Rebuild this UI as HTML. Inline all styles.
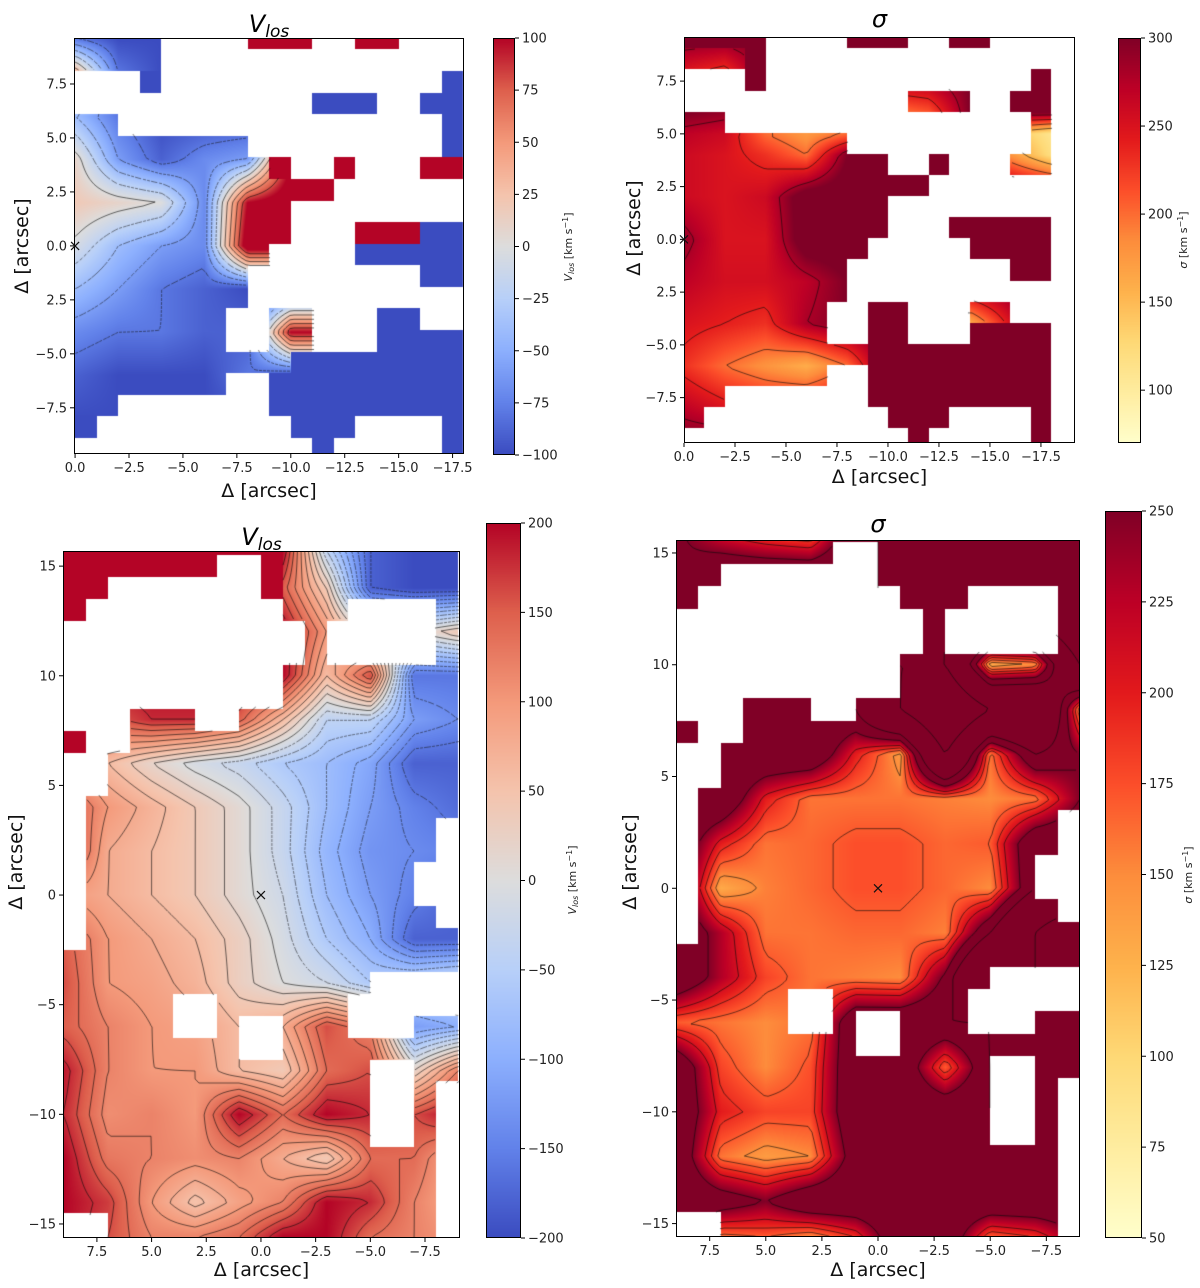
<!DOCTYPE html>
<html><head><meta charset="utf-8">
<style>
html,body{margin:0;padding:0;background:#fff;}
#root{position:relative;width:1200px;height:1288px;overflow:hidden;background:#fff;font-family:"DejaVu Sans","Liberation Sans",sans-serif;}
canvas{position:absolute;}
svg{position:absolute;left:0;top:0;}
</style></head>
<body>
<div id="root">
<svg id="ov" width="1200" height="1288"></svg>
</div>
<script>
// ---------- DATA ----------
const p1Mask = [
"ffff....rrr..rr...",
"ffff..............",
"...b.............b",
"...........bbb..bb",
"ff...............b",
"ffffffff.........b",
"fffffffffr..r...rr",
"ffffffffffrr......",
"ffffffffff........",
"ffffffffff...rrrbb",
"fffffffff....bbbbb",
"ffffffff........bb",
"ffffffff..........",
"fffffff..ff...bb..",
"fffffff..ff...bbbb",
"ffffffffffbbbbbbbb",
"fffffff..bbbbbbbbb",
"ff.......bbbbbbbbb",
"b.........bbb....b",
"...........b.....b"];
const p1GridX = [0,-2,-4,-6,-8,-10];
const p1GridY = [9.6,8,6,4,2,0,-2,-4,-6,-8];
const p1Values = [
[-80,-100,-100,-100,-100,-100],
[40,-80,-100,-100,-100,-100],
[-40,-80,-100,-100,-100,-100],
[10,-60,-90,-70,-60,100],
[20,10,0,-70,100,120],
[-5,-40,-60,-70,120,120],
[-40,-60,-80,-90,-100,-100],
[-70,-80,-80,-90,-90,100],
[-90,-100,-100,-100,-80,-100],
[-100,-100,-100,-100,-100,-100]];

const p2Mask = [
"dddd....ddd..dd....",
"fffd...............",
"...d.............d.",
"...........fff..dd.",
"ff...............f.",
"ffffffff.........f.",
"ffffffffdd..d...ff.",
"ffffffffdddd.......",
"fffffffddd.........",
"fffffffddd...ddddd.",
"ffffffffd.....dddd.",
"ffffffff........dd.",
"ffffffff...........",
"fffffff..dd...ff...",
"fffffff..dd...dddd.",
"fffffffffddddddddd.",
"fffffff..ddddddddd.",
"ff.......ddddddddd.",
"f.........ddd....d.",
"...........d.....d."];
const p2GridX = [0,-2,-4,-6,-8,-10,-12,-14,-16,-18];
const p2GridY = [9.6,8,6,5,4,2,0,-2,-4,-6,-8,-9.5];
const p2Values = [
[300,300,300,300,300,300,300,300,300,300],
[250,230,300,300,300,300,300,300,300,300],
[300,290,300,300,300,190,210,300,300,300],
[270,260,200,175,200,300,300,300,150,110],
[260,250,230,200,300,300,300,300,180,120],
[260,250,260,320,320,300,300,300,300,300],
[290,250,250,320,320,300,300,300,300,300],
[270,255,255,270,300,300,300,300,300,300],
[250,240,230,280,300,300,300,160,250,300],
[230,200,180,160,200,300,300,300,300,300],
[270,250,240,250,260,300,300,300,300,300],
[300,300,300,300,300,300,300,300,300,300]];

const bMask = [
"rrrrrrrrrrffffffff",
"rrrrrrr..rffffffff",
"rr.......rffffffff",
"r.........fff....f",
"...........f.....f",
"...........f.....f",
"..........ffffffff",
"..........ffffffff",
"...fff..ffffffffff",
"r..fffffffffffffff",
"..ffffffffffffffff",
"..ffffffffffffffff",
".fffffffffffffffff",
".ffffffffffffffff.",
".ffffffffffffffff.",
".fffffffffffffff..",
".fffffffffffffff..",
".ffffffffffffffff.",
".fffffffffffffffff",
"ffffffffffffffffff",
"ffffffffffffff....",
"fffff..ffffff.....",
"fffff..f..fff...ff",
"ffffffff..ffffffff",
"ffffffffffffff..ff",
"ffffffffffffff..f.",
"ffffffffffffff..f.",
"ffffffffffffff..f.",
"fffffffffffffffff.",
"fffffffffffffffff.",
"fffffffffffffffff.",
"..fffffffffffffff.",
"..fffffffffffffff."];
const bGridX = [9,7,5,3,1,-1,-3,-5,-7,-9];
const bGridY = [15.7,14,12,10,8,6,4,2,0,-2,-4,-6,-8,-10,-12,-14,-15.6];
const p3Values = [
[200,200,200,200,200,200,-40,-180,-200,-200],
[200,200,200,200,200,150,40,-180,-200,-200],
[200,200,200,200,200,200,100,0,0,40],
[200,200,200,200,200,200,60,160,-160,-160],
[150,150,180,180,150,60,-40,-40,-120,-140],
[100,60,20,-10,-30,-60,-80,-110,-180,-180],
[160,100,70,40,10,-30,-80,-120,-150,-170],
[180,80,60,40,10,-30,-90,-130,-140,-150],
[100,80,60,40,10,-20,-80,-120,-150,-180],
[150,100,80,60,30,-10,-60,-100,-180,-180],
[160,100,90,70,30,0,-20,-60,-40,-20],
[150,120,100,90,60,80,160,120,-120,-100],
[190,120,100,100,60,40,140,160,20,120],
[180,110,120,100,200,140,200,180,160,200],
[200,130,120,110,120,80,40,140,140,80],
[200,170,100,50,90,120,200,180,120,80],
[200,160,120,120,140,200,200,140,120,100]];
const p4Values = [
[260,215,190,175,300,700,500,500,700,700],
[250,300,300,300,300,700,500,500,500,700],
[300,300,300,300,300,700,500,500,500,700],
[300,300,300,300,300,500,500,130,150,500],
[300,300,300,300,300,500,700,500,500,150],
[300,300,300,300,200,140,500,160,300,250],
[300,300,200,160,160,160,155,150,160,250],
[300,200,160,165,175,175,165,170,300,300],
[300,130,155,165,175,175,165,150,300,300],
[300,230,160,160,165,165,155,300,500,700],
[300,230,180,160,155,150,260,500,500,500],
[170,160,150,160,300,300,300,300,500,500],
[300,180,150,175,300,300,170,300,500,300],
[300,200,180,180,300,300,300,300,300,300],
[300,160,140,150,280,300,300,300,300,300],
[300,280,250,300,300,300,300,300,300,300],
[300,160,170,150,190,300,300,170,190,250]];

const p1XTicks = [0,-2.5,-5,-7.5,-10,-12.5,-15,-17.5];
const p1XLabels = ["0.0","−2.5","−5.0","−7.5","−10.0","−12.5","−15.0","−17.5"];
const p1YTicks = [7.5,5,2.5,0,-2.5,-5,-7.5];
const p1YLabels = ["7.5","5.0","2.5","0.0","2.5","−5.0","−7.5"];
const bXTicks = [7.5,5,2.5,0,-2.5,-5,-7.5];
const bXLabels = ["7.5","5.0","2.5","0.0","−2.5","−5.0","−7.5"];
const bYTicks = [15,10,5,0,-5,-10,-15];
const bYLabels = ["15","10","5","0","−5","−10","−15"];
const cb1Ticks = [100,75,50,25,0,-25,-50,-75,-100];
const cb2Ticks = [300,250,200,150,100];
const cb3Ticks = [200,150,100,50,0,-50,-100,-150,-200];
const cb4Ticks = [250,225,200,175,150,125,100,75,50];
const p1Levels = [-100,-80,-60,-40,-20,0,20,40,60,80];
const p2Levels = [160,200,240,280,320];
const p3Levels = [-180,-160,-140,-120,-100,-80,-60,-40,-20,0,20,40,60,80,100,120,140,160,180,200];
const p4Levels = [130,150,170,190,210,250,300,500,700];

// ---------- COLORMAPS ----------
const coolwarm=[[59,76,192],[98,130,234],[141,176,254],[184,208,249],[221,221,221],[245,196,173],[244,154,123],[222,96,77],[180,4,38]];
const ylorrd=[[255,255,204],[255,237,160],[254,217,118],[254,178,76],[253,141,60],[252,78,42],[227,26,28],[189,0,38],[128,0,38]];
function cmap(stops,t){t=Math.max(0,Math.min(1,t));const n=stops.length-1;const f=t*n;const i=Math.min(n-1,Math.floor(f));const u=f-i;const a=stops[i],b=stops[i+1];return [a[0]+(b[0]-a[0])*u,a[1]+(b[1]-a[1])*u,a[2]+(b[2]-a[2])*u];}

function seg(arr,v){
  if(v>=arr[0]) return [0,0];
  const n=arr.length-1;
  if(v<=arr[n]) return [n-1,1];
  for(let i=0;i<n;i++){ if(v<=arr[i]&&v>=arr[i+1]){return [i,(arr[i]-v)/(arr[i]-arr[i+1])];}}
  return [n-1,1];
}
function field(gx,gy,vals,x,y){
  const [i,u]=seg(gx,x);const [j,w]=seg(gy,y);
  const a=vals[j][i],b=vals[j][i+1],c=vals[j+1][i],d=vals[j+1][i+1];
  return (a*(1-u)+b*u)*(1-w)+(c*(1-u)+d*u)*w;
}

const svgNS="http://www.w3.org/2000/svg";
const ov=document.getElementById('ov');
const root=document.getElementById('root');
function el(tag,attrs,parent){const e=document.createElementNS(svgNS,tag);for(const k in attrs)e.setAttribute(k,attrs[k]);(parent||ov).appendChild(e);return e;}

function drawPanel(cfg){
  const [L,T,R,B]=cfg.frame;const W=R-L,H=B-T;
  const cv=document.createElement('canvas');
  cv.width=W;cv.height=H;cv.style.left=L+'px';cv.style.top=T+'px';
  
  
  root.insertBefore(cv,ov);
  const ctx=cv.getContext('2d');
  const img=ctx.createImageData(W,H);
  const sx=px=>cfg.xr[0]+(px)/W*(cfg.xr[1]-cfg.xr[0]);
  const sy=py=>cfg.yr[0]+(py)/H*(cfg.yr[1]-cfg.yr[0]);
  const cellAt=(x,y)=>{let c=Math.floor(cfg.mx0-x);let r=Math.floor(cfg.my0-y);
    if(r<0||r>=cfg.mask.length) return '.';const row=cfg.mask[r];c=Math.max(0,c);if(c>=row.length) return '.';return row[c];};
  for(let py=0;py<H;py++){const y=sy(py+0.5);for(let px=0;px<W;px++){const x=sx(px+0.5);
    const ch=cellAt(x,y);let col;
    if(ch==='.') col=[255,255,255];
    else if(ch==='b') col=cmap(cfg.cm,0);
    else if((ch==='r'&&!cfg.rField)||ch==='d') col=cmap(cfg.cm,1);
    else {const v=field(cfg.gx,cfg.gy,cfg.vals,x,y);col=cmap(cfg.cm,(v-cfg.vmin)/(cfg.vmax-cfg.vmin));}
    const k=(py*W+px)*4;img.data[k]=col[0];img.data[k+1]=col[1];img.data[k+2]=col[2];img.data[k+3]=255;}}
  ctx.putImageData(img,0,0);
  const st=4;const nx=Math.ceil(W/st)+1,ny=Math.ceil(H/st)+1;
  const F=[];for(let j=0;j<ny;j++){F.push([]);for(let i=0;i<nx;i++){F[j].push(field(cfg.gx,cfg.gy,cfg.vals,sx(i*st),sy(j*st)));}}
  ctx.lineWidth=0.75;
  cfg.levels.forEach(lv=>{
    ctx.strokeStyle=(cfg.dashNeg&&lv<0)?'rgba(20,20,20,0.7)':'rgba(10,10,10,0.8)';
    ctx.setLineDash((cfg.dashNeg&&lv<0)?[3,2]:[]);
    ctx.beginPath();
    for(let j=0;j<ny-1;j++)for(let i=0;i<nx-1;i++){
      const cx=i*st+st/2,cy=j*st+st/2;const ch=cellAt(sx(cx),sy(cy));
      if(ch!=='f'&&!(ch==='r'&&cfg.rField)) continue;
      const a=F[j][i],b=F[j][i+1],c=F[j+1][i+1],d=F[j+1][i];
      const pts=[];
      const ed=(v1,v2,x1,y1,x2,y2)=>{if((v1-lv)*(v2-lv)<0){const t=(lv-v1)/(v2-v1);pts.push([x1+(x2-x1)*t,y1+(y2-y1)*t]);}};
      const X=i*st,Y=j*st;
      ed(a,b,X,Y,X+st,Y);ed(b,c,X+st,Y,X+st,Y+st);ed(c,d,X+st,Y+st,X,Y+st);ed(d,a,X,Y+st,X,Y);
      if(pts.length>=2){ctx.moveTo(pts[0][0],pts[0][1]);ctx.lineTo(pts[1][0],pts[1][1]);}
      if(pts.length===4){ctx.moveTo(pts[2][0],pts[2][1]);ctx.lineTo(pts[3][0],pts[3][1]);}
    }
    ctx.stroke();
  });
  ctx.setLineDash([]);
  const fr=el('rect',{x:L+0.5,y:T+0.5,width:W-1,height:H-1,fill:'none',stroke:'#000','stroke-width':1});
  
  
  const X=v=>L+(v-cfg.xr[0])/(cfg.xr[1]-cfg.xr[0])*W;
  const Y=v=>T+(v-cfg.yr[0])/(cfg.yr[1]-cfg.yr[0])*H;
  cfg.xt.forEach((v,i)=>{const x=X(v);
    el('line',{x1:x,y1:B,x2:x,y2:B+4,stroke:'#000','stroke-width':1});
    const t=el('text',{x:x,y:B+18,'font-size':13,'text-anchor':'middle',fill:'#222'});t.textContent=cfg.xl[i];
    
    });
  cfg.yt.forEach((v,i)=>{const y=Y(v);
    el('line',{x1:L-4,y1:y,x2:L,y2:y,stroke:'#000','stroke-width':1});
    const t=el('text',{x:L-7,y:y+4.5,'font-size':13,'text-anchor':'end',fill:'#222'});t.textContent=cfg.yl[i];
    
    });
  const c0x=X(0),c0y=Y(0);
  const cr=el('path',{d:`M${c0x-4},${c0y-4}L${c0x+4},${c0y+4}M${c0x-4},${c0y+4}L${c0x+4},${c0y-4}`,stroke:'#111','stroke-width':1.2});
  
  
  const xl=el('text',{x:(L+R)/2,y:cfg.xlabY,'font-size':19,'text-anchor':'middle',fill:'#111'});xl.textContent='Δ [arcsec]';
  
  
  const yl=el('text',{x:0,y:0,'font-size':19,'text-anchor':'middle',fill:'#111',transform:`translate(${cfg.ylabX},${cfg.ylabY}) rotate(-90)`});yl.textContent='Δ [arcsec]';
  
  
  const tt=el('text',{x:(L+R)/2,y:cfg.titleY,'font-size':24,'text-anchor':'middle',fill:'#000','font-style':'italic'});
  if(cfg.sigma){tt.textContent='σ';}else{tt.textContent='V';const s=el('tspan',{'font-size':17,dy:5},tt);s.textContent='los';}
  
  
}

function drawColorbar(cb){
  const [L,T,R,B]=cb.box;const W=R-L,H=B-T;
  const cv=document.createElement('canvas');cv.width=W;cv.height=H;cv.style.left=L+'px';cv.style.top=T+'px';
  
  
  root.insertBefore(cv,ov);
  const ctx=cv.getContext('2d');
  for(let y=0;y<H;y++){const c=cmap(cb.cm,1-(y+0.5)/H);ctx.fillStyle=`rgb(${c[0]|0},${c[1]|0},${c[2]|0})`;ctx.fillRect(0,y,W,1);}
  el('rect',{x:L+0.5,y:T+0.5,width:W-1,height:H-1,fill:'none',stroke:'#000','stroke-width':1});
  cb.ticks.forEach(v=>{const y=T+(cb.vmax-v)/(cb.vmax-cb.vmin)*H;
    el('line',{x1:R,y1:y,x2:R+4,y2:y,stroke:'#000','stroke-width':1});
    const t=el('text',{x:R+7,y:y+4.5,'font-size':13,fill:'#222'});t.textContent=String(v).replace('-','−');
    
    });
  const lab=el('text',{x:0,y:0,'font-size':11,'text-anchor':'middle',fill:'#222',transform:`translate(${cb.labX},${cb.labY}) rotate(-90)`});
  const s1=el('tspan',{'font-style':'italic'},lab);s1.textContent=cb.sigma?'σ':'V';
  if(!cb.sigma){const s2=el('tspan',{'font-style':'italic','font-size':8,dy:2},lab);s2.textContent='los';}
  const s3=el('tspan',{dy:cb.sigma?0:-2},lab);s3.textContent=' [km s';
  const s4=el('tspan',{'font-size':8,dy:-4},lab);s4.textContent='−1';
  const s5=el('tspan',{dy:4},lab);s5.textContent=']';
  
  
}

drawPanel({name:'vlos-top',frame:[74,38,464,454],xr:[0.05,-18.03],yr:[9.63,-9.64],mask:p1Mask,mx0:0,my0:10.1,
  gx:p1GridX,gy:p1GridY,vals:p1Values,cm:coolwarm,vmin:-100,vmax:100,levels:p1Levels,dashNeg:true,
  xt:p1XTicks,xl:p1XLabels,yt:p1YTicks,yl:p1YLabels,xlabY:497,ylabX:28,ylabY:246,titleY:32});
drawPanel({name:'sigma-top',sigma:true,frame:[684,37,1075,443],xr:[0,-19.17],yr:[9.59,-9.65],mask:p2Mask,mx0:0,my0:10.05,
  gx:p2GridX,gy:p2GridY,vals:p2Values,cm:ylorrd,vmin:70,vmax:300,levels:p2Levels,
  xt:p1XTicks,xl:p1XLabels,yt:p1YTicks,yl:p1YLabels,xlabY:483,ylabX:640,ylabY:228,titleY:27});
drawPanel({name:'vlos-bottom',frame:[63,551,460,1238],xr:[9.05,-9.1],yr:[15.69,-15.64],mask:bMask,mx0:9,my0:16.5,
  gx:bGridX,gy:bGridY,vals:p3Values,cm:coolwarm,vmin:-200,vmax:200,levels:p3Levels,dashNeg:true,
  xt:bXTicks,xl:bXLabels,yt:bYTicks,yl:bYLabels,xlabY:1276,ylabX:22,ylabY:862,titleY:545});
drawPanel({name:'sigma-bottom',sigma:true,rField:true,frame:[676,540,1080,1237],xr:[9.0,-9.0],yr:[15.58,-15.6],mask:bMask,mx0:9,my0:16.5,
  gx:bGridX,gy:bGridY,vals:p4Values,cm:ylorrd,vmin:50,vmax:250,levels:p4Levels,
  xt:bXTicks,xl:bXLabels,yt:bYTicks,yl:bYLabels,xlabY:1276,ylabX:636,ylabY:862,titleY:532});

drawColorbar({name:'colorbar-vlos-top',box:[493,38,515,455],cm:coolwarm,vmin:-100,vmax:100,ticks:cb1Ticks,labX:572,labY:247});
drawColorbar({name:'colorbar-sigma-top',sigma:true,box:[1118,38,1141,443],cm:ylorrd,vmin:70,vmax:300,ticks:cb2Ticks,labX:1187,labY:240});
drawColorbar({name:'colorbar-vlos-bottom',box:[486,523,521,1238],cm:coolwarm,vmin:-200,vmax:200,ticks:cb3Ticks,labX:576,labY:880});
drawColorbar({name:'colorbar-sigma-bottom',sigma:true,box:[1105,511,1142,1238],cm:ylorrd,vmin:50,vmax:250,ticks:cb4Ticks,labX:1192,labY:875});
</script>
</body></html>
